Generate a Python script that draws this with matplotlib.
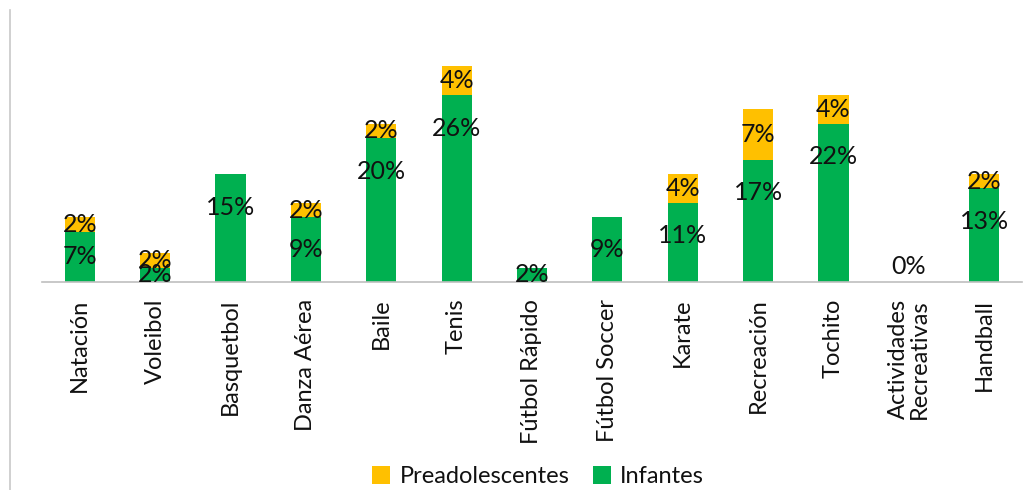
import numpy as np
import matplotlib
matplotlib.use('Agg')
import matplotlib.pyplot as plt
from matplotlib.lines import Line2D

plt.rcParams['font.family'] = ['Lato', 'DejaVu Sans']

deportes = ['Natación', 'Voleibol', 'Basquetbol', 'Danza Aérea', 'Baile', 'Tenis',
            'Fútbol Rápido', 'Fútbol Soccer', 'Karate', 'Recreación', 'Tochito',
            'Actividades\nRecreativas', 'Handball']
infantes = [7, 2, 15, 9, 20, 26, 2, 9, 11, 17, 22, 0, 13]
preadolescentes = [2, 2, 0, 2, 2, 4, 0, 0, 4, 7, 4, 0, 2]

verde = '#00B050'
amarillo = '#FFC000'

fig = plt.figure(figsize=(10.35, 4.9), dpi=100)
ax = fig.add_axes([42 / 1035, 208 / 490, 980 / 1035, 272 / 490])

x = np.arange(len(deportes))
ancho = 0.4
ax.bar(x, infantes, ancho, color=verde, label='Infantes', zorder=2)
ax.bar(x, preadolescentes, ancho, bottom=infantes, color=amarillo,
       label='Preadolescentes', zorder=2)


def pos_etiqueta(base, valor):
    # etiqueta cerca del borde superior de cada segmento
    if valor == 0:
        return base + 2.1
    return base + valor - min(valor / 2, 4.6)


fs = 17
fs_dato = 18
for i in range(len(deportes)):
    ax.text(x[i], pos_etiqueta(0, infantes[i]), f'{infantes[i]}%',
            ha='center', va='center', fontsize=fs_dato, color='#111111', zorder=3)
    if preadolescentes[i] > 0:
        ax.text(x[i], pos_etiqueta(infantes[i], preadolescentes[i]),
                f'{preadolescentes[i]}%', ha='center', va='center',
                fontsize=fs_dato, color='#111111', zorder=3)

ax.set_xlim(-0.5, len(deportes) - 0.5)
ax.set_ylim(0, 37.8)
ax.set_xticks(x)
ax.set_xticklabels(deportes, rotation=90, fontsize=fs, color='#111111',
                   linespacing=0.95)
ax.tick_params(axis='x', length=0, pad=12)
ax.set_yticks([])
for lado in ['top', 'right', 'left']:
    ax.spines[lado].set_visible(False)
ax.spines['bottom'].set_color('#BFBFBF')
ax.spines['bottom'].set_linewidth(1.2)

handles, labels = ax.get_legend_handles_labels()
fig.legend(handles[::-1], labels[::-1], loc='center', bbox_to_anchor=(0.52, 0.027),
           ncol=2, frameon=False, fontsize=fs, handlelength=0.75, handleheight=0.75,
           handletextpad=0.4, columnspacing=1.0, labelcolor='#111111')

# borde izquierdo del marco
fig.add_artist(Line2D([10 / 1035, 10 / 1035], [0, 480 / 490], color='#C8C8C8',
                      linewidth=1.2, transform=fig.transFigure))

fig.savefig('out.png', dpi=100)
